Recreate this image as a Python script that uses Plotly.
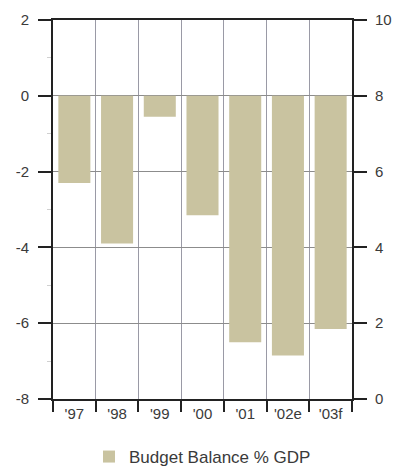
import plotly.graph_objects as go

# Budget balance as a share of GDP, by year (e = estimate, f = forecast)
years = ["'97", "'98", "'99", "'00", "'01", "'02e", "'03f"]
balance_pct_gdp = [-2.3, -3.9, -0.55, -3.15, -6.5, -6.85, -6.15]

left_ticks = [2, 0, -2, -4, -6, -8]
right_ticks = [0, 2, 4, 6, 8, 10]

BAR = "#c9c3a0"
AXIS = "#222222"
GRID = "#9a9aa6"
TEXT = "#3a3a3a"
FONT = "Liberation Sans, Arial, sans-serif"

fig = go.Figure()
fig.add_trace(go.Bar(
    x=years,
    y=balance_pct_gdp,
    name="Budget Balance % GDP",
    marker=dict(color=BAR, line=dict(width=0)),
    width=0.75,
))
# empty trace so the secondary (right-hand) scale is drawn
fig.add_trace(go.Scatter(
    x=[years[0]], y=[None], yaxis="y2", mode="markers",
    showlegend=False, hoverinfo="skip",
))

fig.update_layout(
    width=393,
    height=469,
    margin=dict(l=53, r=41, t=20, b=70, autoexpand=False),
    paper_bgcolor="white",
    plot_bgcolor="white",
    font=dict(family=FONT, size=15, color=TEXT),
    showlegend=True,
    legend=dict(
        orientation="h",
        x=(89 - 53) / 299,
        xanchor="left",
        y=(399 - 457) / 379,
        yanchor="middle",
        font=dict(family=FONT, size=17, color=TEXT),
        bgcolor="rgba(0,0,0,0)",
    ),
    xaxis=dict(
        type="category",
        tickson="boundaries",
        showgrid=True,
        gridcolor=GRID,
        gridwidth=1,
        showline=True,
        linecolor=AXIS,
        linewidth=2,
        mirror=True,
        ticks="outside",
        ticklen=11,
        tickwidth=2,
        tickcolor=AXIS,
        tickfont=dict(family=FONT, size=15, color=TEXT),
        zeroline=False,
    ),
    yaxis=dict(
        range=[-8, 2],
        tickvals=left_ticks,
        ticktext=[str(v) for v in left_ticks],
        showgrid=True,
        gridcolor="#8c8c8c",
        gridwidth=1,
        zeroline=False,
        showline=True,
        linecolor=AXIS,
        linewidth=2,
        ticks="outside",
        ticklen=13,
        tickwidth=2,
        tickcolor=AXIS,
        ticklabelstandoff=6,
        minor=dict(tickvals=[1, -1, -3, -5, -7], ticks="outside", ticklen=4,
                   tickcolor="#d0d0d0", tickwidth=1, showgrid=False),
        tickfont=dict(family=FONT, size=15, color=TEXT),
    ),
    yaxis2=dict(
        overlaying="y",
        side="right",
        range=[0, 10],
        tickvals=right_ticks,
        ticktext=[str(v) for v in right_ticks],
        showgrid=False,
        zeroline=False,
        showline=True,
        linecolor=AXIS,
        linewidth=2,
        ticks="outside",
        ticklen=13,
        tickwidth=2,
        tickcolor=AXIS,
        ticklabelstandoff=5,
        tickfont=dict(family=FONT, size=15, color=TEXT),
    ),
)

fig.write_html("out.html")
